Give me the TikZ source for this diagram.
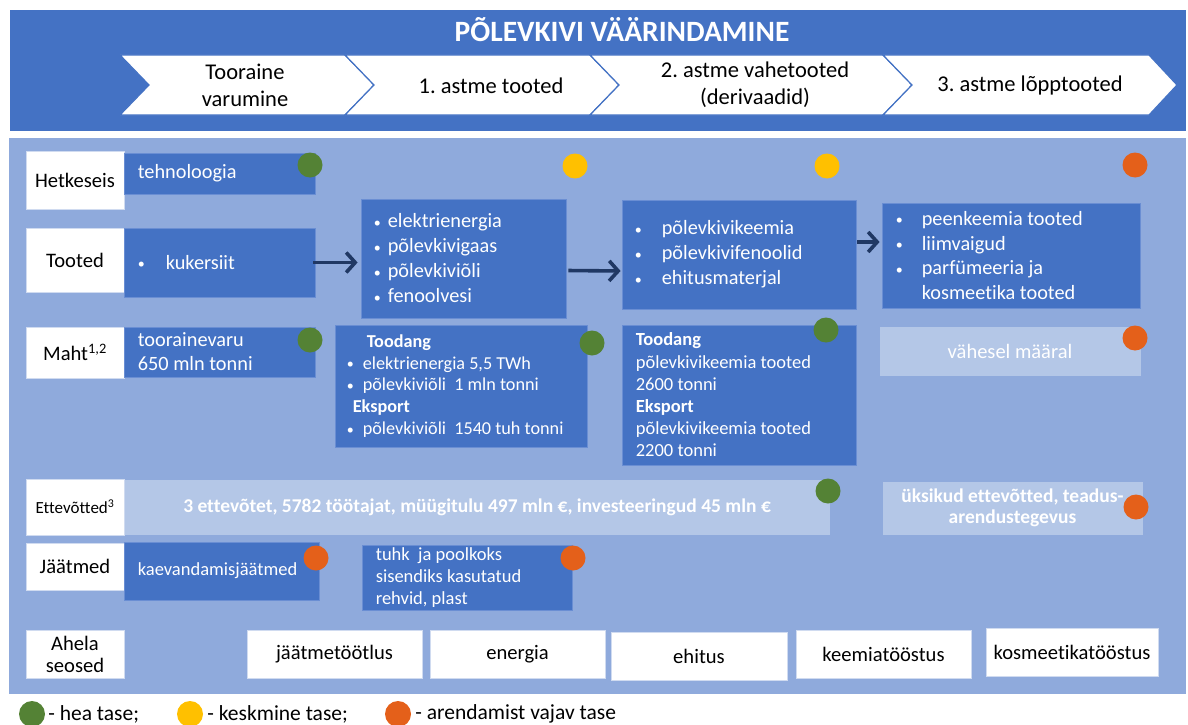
\documentclass[tikz,border=0pt]{standalone}
\usepackage{fontspec}
\setmainfont{Carlito}[Ligatures=NoCommon]
\usetikzlibrary{arrows.meta}

\definecolor{bandblue}{HTML}{4472C4}
\definecolor{bodyblue}{HTML}{8FAADC}
\definecolor{boxblue}{HTML}{4472C4}
\definecolor{boxedge}{HTML}{6A8ED3}
\definecolor{paleblue}{HTML}{B4C7E7}
\definecolor{labeledge}{HTML}{D0DBF0}
\definecolor{navy}{HTML}{203864}
\definecolor{good}{HTML}{548235}
\definecolor{mid}{HTML}{FFC000}
\definecolor{weak}{HTML}{E4601A}

\newcommand\fs[2]{\fontsize{#1}{#2}\selectfont}
% small list bullet followed by a fixed indent
\newcommand\bul[1]{\makebox[#1pt][l]{\raisebox{0.5pt}{\fs{14}{14}•}}}

\tikzset{
  % rectangle given by its corners x1,y1,x2,y2
  area/.style n args={4}{minimum width={#3-#1}, minimum height={#4-#2},
      at={({(#1+#3)/2},{(#2+#4)/2})}},
  blk/.style={fill=boxblue, draw=boxedge, line width=0.8pt, inner sep=0pt},
  lbl/.style={fill=white, draw=labeledge, line width=0.8pt, inner sep=0pt,
              align=center, font=\fs{20.6}{22}},
  pale/.style={fill=paleblue, draw=paleblue, inner sep=0pt, text=white,
               align=center},
  wtxt/.style={text=white, inner sep=0pt, align=left, anchor=west,
               font=\fs{20.3}{25}},
  dot/.style={circle, inner sep=0pt, minimum size=25},
  arr/.style={draw=navy, line width=3.6pt,
              -{Straight Barb[length=9pt,width=20pt]}},
  chev/.style={fill=white, draw=bandblue, line width=1.2pt, line join=miter},
  chevtxt/.style={font=\fs{22.5}{27}, align=center, inner sep=0pt},
  legtxt/.style={anchor=west, inner sep=0pt, font=\fs{21.5}{23}},
}

\begin{document}
\frenchspacing
\begin{tikzpicture}[x=1pt,y=-1pt]
\useasboundingbox (0,0) rectangle (1188,725);

% header band with the value chain stages
\fill[bandblue] (10,10) rectangle (1186,131);
\node[text=white, font=\bfseries\fs{29.5}{31}, inner sep=0pt] (title) at (622,30)
  {PÕLEVKIVI VÄÄRINDAMINE};

\draw[chev] (120,55) -- (149,85) -- (120,115) -- (345,115) -- (374,85) -- (345,55) -- cycle;
\draw[chev] (345,55) -- (374,85) -- (345,115) -- (590,115) -- (619,85) -- (590,55) -- cycle;
\draw[chev] (590,55) -- (619,85) -- (590,115) -- (883,115) -- (912,85) -- (883,55) -- cycle;
\draw[chev] (883,55) -- (912,85) -- (883,115) -- (1149,115) -- (1177,85) -- (1149,55) -- cycle;

\node[chevtxt] (s1) at (245,85) {Tooraine\\varumine};
\node[chevtxt] (s2) at (491,86) {1. astme tooted};
\node[chevtxt] (s3) at (755,85) {2. astme vahetooted\\(derivaadid)};
\node[chevtxt] (s4) at (1030,86) {3. astme lõpptooted};

% body panel
\fill[bodyblue] (9,138) rectangle (1186,694);

% row: current state
\node[lbl, area={26}{151}{124}{209}] (hk) {Hetkeseis};
\node[blk, area={124}{153}{315}{194}] (tech) {};
\node[wtxt] (techT) at ([xshift=14]tech.west) {tehnoloogia};
\node[dot, fill=good] (d11) at (310,165) {};
\node[dot, fill=mid] (d12) at (575,166) {};
\node[dot, fill=mid] (d13) at (827,166) {};
\node[dot, fill=weak] (d14) at (1135,165) {};

% row: products
\node[lbl, area={26}{228}{124}{292}] (tt) {Tooted};
\node[blk, area={124}{228}{315}{297}] (p1) {};
\node[wtxt] (p1T) at ([xshift=14]p1.west) {\bul{28}kukersiit};
\node[blk, area={361}{199}{566}{318}] (p2) {};
\node[wtxt] (p2T) at ([xshift=13]p2.west)
  {\bul{14}elektrienergia\\ \bul{14}põlevkivigaas\\ \bul{14}põlevkiviõli\\ \bul{14}fenoolvesi};
\node[blk, area={622}{200}{856}{309}] (p3) {};
\node[wtxt] (p3T) at ([xshift=13]p3.west)
  {\bul{27}põlevkivikeemia\\ \bul{27}põlevkivifenoolid\\ \bul{27}ehitusmaterjal};
\node[blk, area={882}{203}{1140}{308}] (p4) {};
\node[wtxt, font=\fs{20.3}{24.7}] (p4T) at ([xshift=14]p4.west)
  {\bul{26}peenkeemia tooted\\ \bul{26}liimvaigud\\ \bul{26}parfümeeria ja\\ \hspace{26pt}kosmeetika tooted};

\draw[arr, shorten <=-2pt, shorten >=3pt] (p1.east) -- (p2.west |- p1.east);
\draw[arr, shorten <=2pt, shorten >=1pt] ([yshift=-12]p2.east) -- ([yshift=-16.5]p3.west);
\draw[arr, shorten <=1pt, shorten >=2pt] ([yshift=12.5]p3.east) -- ([yshift=13.5]p4.west);

% row: volume
\node[lbl, area={26}{327}{124}{378}] (mh) {Maht\textsuperscript{1,2}};
\node[blk, area={124}{327}{315}{377}] (m1) {};
\node[wtxt, font=\fs{20.3}{24}] (m1T) at ([xshift=14]m1.west) {toorainevaru\\650 mln tonni};
\node[dot, fill=good] (d21) at (310,340) {};
\node[blk, area={335}{325}{587}{447}] (m2) {};
\node[wtxt, font=\fs{18.2}{21.8}] (m2T) at ([xshift=12]m2.west)
  {\hspace{20pt}\textbf{Toodang}\\ \bul{16}elektrienergia 5,5 TWh\\
   \bul{16}põlevkiviõli\ \ 1 mln tonni\\ \hspace{6pt}\textbf{Eksport}\\
   \bul{16}põlevkiviõli\ \ 1540 tuh tonni};
\node[dot, fill=good] (d22) at (592,343) {};
\node[blk, area={622}{325}{856}{465}] (m3) {};
\node[wtxt, font=\fs{18.5}{22.2}] (m3T) at ([xshift=14]m3.west)
  {\textbf{Toodang}\\põlevkivikeemia tooted\\2600 tonni\\\textbf{Eksport}\\
   põlevkivikeemia tooted\\2200 tonni};
\node[dot, fill=good] (d23) at (826,330) {};
\node[pale, area={880}{327}{1140}{375}, font=\fs{20.5}{22}] (m4) {vähesel määral};
\node[dot, fill=weak] (d24) at (1135,338) {};

% row: companies
\node[lbl, area={26}{479}{124}{535}, font=\fs{17}{20}] (et) {Ettevõtted\textsuperscript{3}};
\node[pale, area={125}{480}{829}{534}, font=\bfseries\fs{19.5}{21}] (e1)
  {3 ettevõtet, 5782 töötajat, müügitulu 497 mln €, investeeringud 45 mln €};
\node[dot, fill=good] (d31) at (828,491) {};
\node[pale, area={883}{482}{1142}{534}, font=\bfseries\fs{19.5}{21.5}] (e2)
  {üksikud ettevõtted, teadus-\\arendustegevus};
\node[dot, fill=weak] (d32) at (1136,507) {};

% row: waste
\node[lbl, area={26}{543}{124}{590}] (jt) {Jäätmed};
\node[blk, area={124}{542}{319}{600}] (j1) {};
\node[wtxt, font=\fs{18.5}{22}] (j1T) at ([xshift=14]j1.west) {kaevandamisjäätmed};
\node[dot, fill=weak] (d41) at (316,558) {};
\node[blk, area={362}{545}{572}{610}] (j2) {};
\node[wtxt, font=\fs{18.5}{22}] (j2T) at ([xshift=14]j2.west)
  {tuhk\ \ ja poolkoks\\sisendiks kasutatud\\rehvid, plast};
\node[dot, fill=weak] (d42) at (573,558) {};

% row: chain links
\node[lbl, area={26}{630}{124}{678}] (ah) {Ahela\\seosed};
\node[lbl, area={247}{630}{422}{678}] (l1) {jäätmetöötlus};
\node[lbl, area={430}{630}{605}{678}] (l2) {energia};
\node[lbl, area={611}{632}{787}{680}] (l3) {ehitus};
\node[lbl, area={796}{630}{971}{678}] (l4) {keemiatööstus};
\node[lbl, area={986}{628}{1158}{676}] (l5) {kosmeetikatööstus};

% legend
\node[dot, minimum size=26, fill=good] (g1) at (32,714) {};
\node[legtxt] (g1T) at ([xshift=3]g1.east) {- hea tase;};
\node[dot, minimum size=26, fill=mid] (g2) at (190,714) {};
\node[legtxt] (g2T) at ([xshift=4]g2.east) {- keskmine tase;};
\node[dot, minimum size=26, fill=weak] (g3) at (398,714) {};
\node[legtxt] (g3T) at ([xshift=4]g3.east) {- arendamist vajav tase};
\end{tikzpicture}
\end{document}
